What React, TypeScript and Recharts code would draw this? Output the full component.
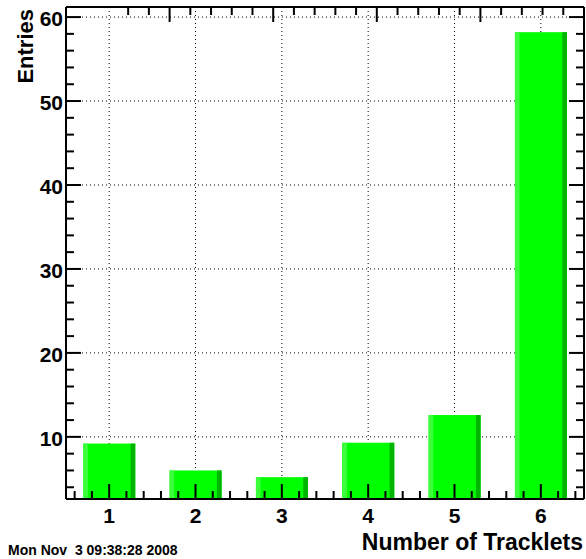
import { ComposedChart, Bar, XAxis, YAxis, CartesianGrid } from 'recharts'

const tracklets = [1, 2, 3, 4, 5, 6]
const entries = [9.2, 6.0, 5.2, 9.3, 12.6, 58.2]

const xMajorTicks = [1, 2, 3, 4, 5, 6]
const yMajorTicks = [10, 20, 30, 40, 50, 60]
const yAllTicks = [4, 6, 8, 10, 12, 14, 16, 18, 20, 22, 24, 26, 28, 30, 32, 34, 36, 38, 40, 42, 44, 46, 48, 50, 52, 54, 56, 58, 60]
// minor x ticks every 0.2 of a bin
const xAllTicks = Array.from({ length: 30 }, (_, i) => Math.round((0.6 + i * 0.2) * 10) / 10)

const xTitle = 'Number of Tracklets'
const yTitle = 'Entries'
const stamp = 'Mon Nov  3 09:38:28 2008'

const data = tracklets.map((t, i) => ({ tracklets: t, entries: entries[i] }))

const FONT = '"Liberation Sans", Arial, Helvetica, sans-serif'
const MAJOR = 15
const MINOR = 8

const isMajorX = (v: number) => Number.isInteger(v)
const isMajorY = (v: number) => v % 10 === 0

function BottomTick({ x, y, payload }: any) {
  const v = payload.value
  const len = isMajorX(v) ? MAJOR : MINOR
  return (
    <g>
      <line x1={x} y1={y} x2={x} y2={y - len} stroke="#000" strokeWidth={2} />
      {isMajorX(v) && (
        <text x={x} y={y + 24} textAnchor="middle" fontFamily={FONT} fontWeight="bold" fontSize={21} fill="#000">
          {v}
        </text>
      )}
    </g>
  )
}

function TopTick({ x, y, payload }: any) {
  const len = isMajorX(payload.value) ? MAJOR : MINOR
  return <line x1={x} y1={y} x2={x} y2={y + len} stroke="#000" strokeWidth={2} />
}

function LeftTick({ x, y, payload }: any) {
  const v = payload.value
  const len = isMajorY(v) ? MAJOR : MINOR
  return (
    <g>
      <line x1={x} y1={y} x2={x + len} y2={y} stroke="#000" strokeWidth={2} />
      {isMajorY(v) && (
        <text x={x - 3} y={y + 9} textAnchor="end" fontFamily={FONT} fontWeight="bold" fontSize={21} fill="#000">
          {v}
        </text>
      )}
    </g>
  )
}

function RightTick({ x, y, payload }: any) {
  const len = isMajorY(payload.value) ? MAJOR : MINOR
  return <line x1={x} y1={y} x2={x - len} y2={y} stroke="#000" strokeWidth={2} />
}

// ROOT style bar: light strip on the left, dark strip on the right
function RootBar({ x, y, width, height }: any) {
  const strip = width * 0.09
  return (
    <g>
      <rect x={x} y={y} width={width} height={height} fill="#00ff00" />
      <rect x={x} y={y} width={strip} height={height} fill="#3cff3c" />
      <rect x={x + width - strip} y={y} width={strip} height={height} fill="#00b400" />
    </g>
  )
}

export default function App() {
  return (
    <div style={{ position: 'absolute', left: 0, top: 0, width: 586, height: 559, background: '#fff' }}>
      <ComposedChart
        width={586}
        height={559}
        data={data}
        margin={{ top: 0, right: 0, bottom: 0, left: 0 }}
        barCategoryGap="20%"
      >
        <CartesianGrid
          horizontalValues={yMajorTicks}
          verticalValues={xMajorTicks}
          stroke="#000"
          strokeDasharray="1 3"
        />
        <XAxis
          dataKey="tracklets"
          type="number"
          domain={[0.5, 6.5]}
          allowDataOverflow
          ticks={xAllTicks}
          interval={0}
          height={60}
          tickSize={0}
          tickMargin={0}
          tickLine={false}
          axisLine={{ stroke: '#000', strokeWidth: 2 }}
          tick={<BottomTick />}
        />
        <XAxis
          xAxisId="top"
          orientation="top"
          type="number"
          domain={[0.5, 6.5]}
          allowDataOverflow
          ticks={xAllTicks}
          interval={0}
          height={7}
          tickSize={0}
          tickMargin={0}
          tickLine={false}
          axisLine={{ stroke: '#000', strokeWidth: 2 }}
          tick={<TopTick />}
        />
        <YAxis
          type="number"
          domain={[2.6, 61.2]}
          allowDataOverflow
          ticks={yAllTicks}
          interval={0}
          width={66}
          tickSize={0}
          tickMargin={0}
          tickLine={false}
          axisLine={{ stroke: '#000', strokeWidth: 2 }}
          tick={<LeftTick />}
        />
        <YAxis
          yAxisId="right"
          orientation="right"
          type="number"
          domain={[2.6, 61.2]}
          allowDataOverflow
          ticks={yAllTicks}
          interval={0}
          width={2}
          tickSize={0}
          tickMargin={0}
          tickLine={false}
          axisLine={{ stroke: '#000', strokeWidth: 2 }}
          tick={<RightTick />}
        />
        <Bar dataKey="entries" shape={<RootBar />} isAnimationActive={false} />
      </ComposedChart>
      <svg width={586} height={559} style={{ position: 'absolute', left: 0, top: 0, pointerEvents: 'none' }}>
        <text
          transform="translate(33, 9) rotate(-90)"
          textAnchor="end"
          fontFamily={FONT}
          fontWeight="bold"
          fontSize={22}
          fill="#000"
        >
          {yTitle}
        </text>
        <text x={583} y={550} textAnchor="end" fontFamily={FONT} fontWeight="bold" fontSize={23} fill="#000">
          {xTitle}
        </text>
        <text x={8} y={555} fontFamily={FONT} fontWeight="bold" fontSize={14} fill="#000" style={{ whiteSpace: 'pre' }}>
          {stamp}
        </text>
      </svg>
    </div>
  )
}
